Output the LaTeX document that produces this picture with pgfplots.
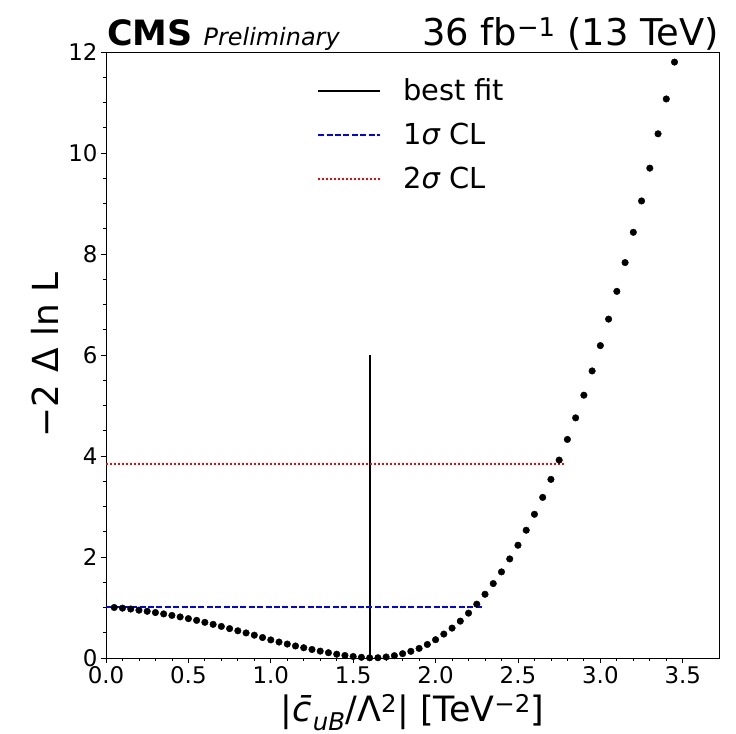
\documentclass[border=0pt]{standalone}
\usepackage{fontspec}
\setmainfont{DejaVu Sans}
\usepackage{pgfplots}
\usepackage{pgfplotstable}
\pgfplotsset{compat=1.18}
\definecolor{mplblue}{RGB}{0,0,255}
\definecolor{mplred}{RGB}{255,0,0}
\pgfplotstableread{
x y
0.05 1.000
0.10 0.987
0.15 0.970
0.20 0.947
0.25 0.925
0.30 0.900
0.35 0.873
0.40 0.843
0.45 0.813
0.50 0.780
0.55 0.745
0.60 0.706
0.65 0.666
0.70 0.625
0.75 0.582
0.80 0.539
0.85 0.496
0.90 0.452
0.95 0.405
1.00 0.358
1.05 0.316
1.10 0.276
1.15 0.238
1.20 0.203
1.25 0.169
1.30 0.136
1.35 0.105
1.40 0.075
1.45 0.050
1.50 0.030
1.55 0.014
1.60 0.004
1.65 0.005
1.70 0.020
1.75 0.046
1.80 0.086
1.85 0.132
1.90 0.190
1.95 0.268
2.00 0.362
2.05 0.474
2.10 0.592
2.15 0.730
2.20 0.888
2.25 1.066
2.30 1.262
2.35 1.474
2.40 1.705
2.45 1.962
2.50 2.233
2.55 2.530
2.60 2.846
2.65 3.180
2.70 3.537
2.75 3.919
2.80 4.328
2.85 4.755
2.90 5.204
2.95 5.684
3.00 6.186
3.05 6.710
3.10 7.260
3.15 7.830
3.20 8.430
3.25 9.050
3.30 9.700
3.35 10.380
3.40 11.070
3.45 11.800
}\scan
\pgfplotstableread{
x y
0 1
2.285 1
}\onesigma
\begin{document}
\begin{tikzpicture}
\useasboundingbox (0,0) rectangle (736bp,734bp);
\begin{axis}[
  name=ax,
  at={(106bp,76bp)}, anchor=south west,
  width=613bp, height=606bp, scale only axis,
  xmin=0, xmax=3.72, ymin=0, ymax=12,
  xtick={0,0.5,1,1.5,2,2.5,3,3.5}, ytick={0,2,4,6,8,10,12},
  minor x tick num=4, minor y tick num=3,
  tick align=outside, xtick pos=bottom, ytick pos=left,
  major tick length=5bp, minor tick length=3bp,
  tick style={black, line width=0.8bp},
  axis line style={line width=0.8bp},
  /pgf/number format/assume math mode=true,
  xticklabel style={font=\fontsize{23}{23}\selectfont, /pgf/number format/.cd, fixed, fixed zerofill, precision=1},
  yticklabel style={font=\fontsize{23}{23}\selectfont},
  xlabel={|\textit{c̄}\textsubscript{\textit{uB}}/Λ\textsuperscript{2}| [TeV\textsuperscript{−2}]},
  ylabel={−2 Δ ln L},
  xlabel style={font=\fontsize{35}{35}\selectfont, at={(axis description cs:0.5,-0.104)}, anchor=base},
  ylabel style={font=\fontsize{36}{36}\selectfont, at={(axis description cs:-0.1,0.5)}, anchor=center, rotate=0},
  legend style={at={(axis cs:1.262,11.55)}, anchor=north west, draw=none, fill=none,
    font=\fontsize{29}{29}\selectfont, row sep=17bp, column sep=20bp, cells={anchor=west}},
  legend image code/.code={\draw[#1] (0bp,0bp) -- (62bp,0bp);},
]
\addplot[only marks, mark=*, mark size=3.3bp, black, forget plot] table[x=x,y=y] {\scan};
\addplot[draw=black, line width=2bp] coordinates {(1.6,0) (1.6,6)};
\addlegendentry{best fit}
\addplot[mplblue, solid, line width=2bp, dash pattern=on 6bp off 2.4bp, mark=none] table[x=x,y=y] {\onesigma};
\addlegendentry{1\textit{σ} CL}
\addplot[color=mplred, draw=mplred, line width=1.7bp, dash pattern=on 1.7bp off 2.3bp] coordinates {(0,3.84) (2.79,3.84)};
\addlegendentry{2\textit{σ} CL}
\end{axis}
\node[anchor=base west, inner sep=0pt, font=\fontsize{35}{35}\selectfont] at ([xshift=1bp,yshift=6bp]ax.north west) {{\bfseries CMS} {\fontsize{24}{24}\selectfont\itshape Preliminary}};
\node[anchor=base east, inner sep=0pt, font=\fontsize{37}{37}\selectfont] at ([yshift=6bp]ax.north east) {36 fb\textsuperscript{−1} (13 TeV)};
\end{tikzpicture}
\end{document}
